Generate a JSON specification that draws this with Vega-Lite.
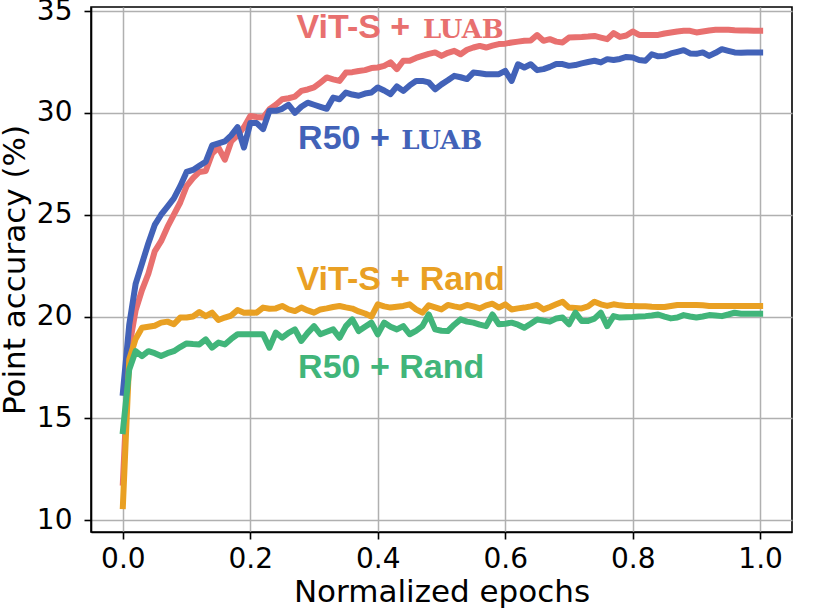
{
  "$schema": "https://vega.github.io/schema/vega-lite/v6.json",
  "autosize": {"type": "none"},
  "padding": {"left": 91, "top": 7, "right": 38, "bottom": 82},
  "width": 701,
  "height": 525,
  "background": "white",
  "config": {
    "view": {"stroke": "#000000", "strokeWidth": 1.6},
    "axis": {
      "domainColor": "#000000", "domainWidth": 1.6,
      "tickColor": "#000000", "tickWidth": 1.6, "tickSize": 7,
      "labelFont": "DejaVu Sans", "labelFontSize": 28, "labelColor": "#000000",
      "titleFont": "DejaVu Sans", "titleFontSize": 31, "titleFontWeight": "normal", "titleColor": "#000000",
      "gridColor": "#b0b0b0", "gridWidth": 1.5, "gridOpacity": 1
    }
  },
  "datasets": {
    "acc": [
      {"x":0.00,"vl":11.84,"rl":16.26,"vr":10.69,"rr":14.37},
      {"x":0.01,"vl":18.5,"rl":19.6,"vr":17.9,"rr":17.4},
      {"x":0.02,"vl":20.3,"rl":21.6,"vr":18.9,"rr":18.3},
      {"x":0.03,"vl":21.3,"rl":22.6,"vr":19.45,"rr":18.06},
      {"x":0.04,"vl":22.1,"rl":23.6,"vr":19.5,"rr":18.3},
      {"x":0.05,"vl":23.2,"rl":24.5,"vr":19.55,"rr":18.2},
      {"x":0.06,"vl":23.7,"rl":25.0,"vr":19.7,"rr":18.06},
      {"x":0.07,"vl":24.4,"rl":25.4,"vr":19.75,"rr":18.2},
      {"x":0.08,"vl":25.0,"rl":25.8,"vr":19.62,"rr":18.3},
      {"x":0.09,"vl":25.6,"rl":26.4,"vr":19.95,"rr":18.5},
      {"x":0.10,"vl":26.4,"rl":27.1,"vr":19.95,"rr":18.68},
      {"x":0.11,"vl":26.8,"rl":27.2,"vr":20.0,"rr":18.65},
      {"x":0.12,"vl":27.1,"rl":27.4,"vr":20.22,"rr":18.63},
      {"x":0.13,"vl":27.15,"rl":27.6,"vr":20.02,"rr":18.88},
      {"x":0.14,"vl":28.0,"rl":28.4,"vr":20.19,"rr":18.47},
      {"x":0.15,"vl":28.3,"rl":28.5,"vr":19.83,"rr":18.72},
      {"x":0.16,"vl":27.7,"rl":28.6,"vr":19.95,"rr":18.63},
      {"x":0.17,"vl":28.6,"rl":28.9,"vr":20.05,"rr":18.9},
      {"x":0.18,"vl":28.9,"rl":29.3,"vr":20.32,"rr":19.13},
      {"x":0.19,"vl":29.3,"rl":28.3,"vr":20.19,"rr":19.13},
      {"x":0.20,"vl":29.85,"rl":29.5,"vr":20.2,"rr":19.13},
      {"x":0.21,"vl":29.8,"rl":29.5,"vr":20.19,"rr":19.13},
      {"x":0.22,"vl":29.77,"rl":29.2,"vr":20.44,"rr":19.13},
      {"x":0.23,"vl":30.18,"rl":30.1,"vr":20.38,"rr":18.47},
      {"x":0.24,"vl":30.4,"rl":30.1,"vr":20.4,"rr":19.21},
      {"x":0.25,"vl":30.67,"rl":30.2,"vr":20.52,"rr":18.96},
      {"x":0.26,"vl":30.72,"rl":30.4,"vr":20.35,"rr":19.2},
      {"x":0.27,"vl":30.8,"rl":30.0,"vr":20.27,"rr":19.37},
      {"x":0.28,"vl":31.08,"rl":30.3,"vr":20.44,"rr":18.8},
      {"x":0.29,"vl":31.15,"rl":30.5,"vr":20.3,"rr":19.2},
      {"x":0.30,"vl":31.25,"rl":30.4,"vr":20.19,"rr":19.53},
      {"x":0.31,"vl":31.49,"rl":30.3,"vr":20.35,"rr":19.13},
      {"x":0.32,"vl":31.74,"rl":30.2,"vr":20.4,"rr":19.25},
      {"x":0.33,"vl":31.65,"rl":30.75,"vr":20.47,"rr":19.37},
      {"x":0.34,"vl":31.57,"rl":30.67,"vr":20.52,"rr":18.96},
      {"x":0.35,"vl":31.98,"rl":31.0,"vr":20.45,"rr":19.53},
      {"x":0.36,"vl":32.0,"rl":30.9,"vr":20.39,"rr":19.86},
      {"x":0.37,"vl":32.06,"rl":30.84,"vr":20.25,"rr":19.29},
      {"x":0.38,"vl":32.1,"rl":30.95,"vr":20.15,"rr":19.5},
      {"x":0.39,"vl":32.2,"rl":31.0,"vr":20.0,"rr":19.7},
      {"x":0.40,"vl":32.23,"rl":31.25,"vr":20.6,"rr":19.13},
      {"x":0.41,"vl":32.31,"rl":31.1,"vr":20.5,"rr":19.7},
      {"x":0.42,"vl":32.48,"rl":30.92,"vr":20.44,"rr":19.5},
      {"x":0.43,"vl":32.15,"rl":31.3,"vr":20.48,"rr":19.37},
      {"x":0.44,"vl":32.56,"rl":31.08,"vr":20.52,"rr":19.53},
      {"x":0.45,"vl":32.56,"rl":31.35,"vr":20.6,"rr":19.13},
      {"x":0.46,"vl":32.7,"rl":31.57,"vr":20.35,"rr":19.3},
      {"x":0.47,"vl":32.8,"rl":31.57,"vr":20.19,"rr":19.53},
      {"x":0.48,"vl":32.9,"rl":31.5,"vr":20.55,"rr":20.1},
      {"x":0.49,"vl":32.97,"rl":31.16,"vr":20.45,"rr":19.37},
      {"x":0.50,"vl":32.8,"rl":31.4,"vr":20.35,"rr":19.3},
      {"x":0.51,"vl":32.95,"rl":31.6,"vr":20.57,"rr":19.29},
      {"x":0.52,"vl":33.05,"rl":31.82,"vr":20.5,"rr":19.6},
      {"x":0.53,"vl":32.88,"rl":31.75,"vr":20.44,"rr":19.86},
      {"x":0.54,"vl":33.1,"rl":31.66,"vr":20.57,"rr":19.75},
      {"x":0.55,"vl":33.21,"rl":31.98,"vr":20.5,"rr":19.7},
      {"x":0.56,"vl":33.29,"rl":31.95,"vr":20.4,"rr":19.6},
      {"x":0.57,"vl":33.21,"rl":31.9,"vr":20.55,"rr":19.53},
      {"x":0.58,"vl":33.3,"rl":31.9,"vr":20.63,"rr":20.1},
      {"x":0.59,"vl":33.38,"rl":31.9,"vr":20.44,"rr":19.62},
      {"x":0.60,"vl":33.4,"rl":32.06,"vr":20.6,"rr":19.65},
      {"x":0.61,"vl":33.46,"rl":31.57,"vr":20.35,"rr":19.7},
      {"x":0.62,"vl":33.5,"rl":32.39,"vr":20.4,"rr":19.6},
      {"x":0.63,"vl":33.54,"rl":32.23,"vr":20.44,"rr":19.45},
      {"x":0.64,"vl":33.55,"rl":32.39,"vr":20.5,"rr":19.65},
      {"x":0.65,"vl":33.82,"rl":32.1,"vr":20.57,"rr":19.86},
      {"x":0.66,"vl":33.54,"rl":32.15,"vr":20.35,"rr":19.8},
      {"x":0.67,"vl":33.62,"rl":32.26,"vr":20.47,"rr":19.75},
      {"x":0.68,"vl":33.5,"rl":32.4,"vr":20.6,"rr":19.9},
      {"x":0.69,"vl":33.46,"rl":32.4,"vr":20.73,"rr":19.95},
      {"x":0.70,"vl":33.7,"rl":32.31,"vr":20.44,"rr":19.62},
      {"x":0.71,"vl":33.72,"rl":32.35,"vr":20.42,"rr":20.19},
      {"x":0.72,"vl":33.73,"rl":32.43,"vr":20.4,"rr":19.78},
      {"x":0.73,"vl":33.75,"rl":32.5,"vr":20.5,"rr":19.78},
      {"x":0.74,"vl":33.78,"rl":32.56,"vr":20.73,"rr":19.9},
      {"x":0.75,"vl":33.7,"rl":32.48,"vr":20.6,"rr":20.19},
      {"x":0.76,"vl":33.62,"rl":32.64,"vr":20.52,"rr":19.53},
      {"x":0.77,"vl":33.92,"rl":32.6,"vr":20.6,"rr":20.02},
      {"x":0.78,"vl":33.73,"rl":32.65,"vr":20.55,"rr":19.95},
      {"x":0.79,"vl":33.8,"rl":32.75,"vr":20.52,"rr":19.97},
      {"x":0.80,"vl":34.0,"rl":32.72,"vr":20.52,"rr":19.98},
      {"x":0.81,"vl":33.83,"rl":32.6,"vr":20.5,"rr":20.0},
      {"x":0.82,"vl":33.83,"rl":32.56,"vr":20.5,"rr":20.02},
      {"x":0.83,"vl":33.83,"rl":32.88,"vr":20.48,"rr":20.05},
      {"x":0.84,"vl":33.83,"rl":32.78,"vr":20.47,"rr":20.1},
      {"x":0.85,"vl":33.9,"rl":32.8,"vr":20.47,"rr":20.0},
      {"x":0.86,"vl":33.95,"rl":32.92,"vr":20.52,"rr":19.91},
      {"x":0.87,"vl":34.0,"rl":33.0,"vr":20.57,"rr":19.95},
      {"x":0.88,"vl":34.03,"rl":33.08,"vr":20.57,"rr":20.07},
      {"x":0.89,"vl":34.03,"rl":32.92,"vr":20.57,"rr":20.0},
      {"x":0.90,"vl":33.95,"rl":32.9,"vr":20.57,"rr":19.95},
      {"x":0.91,"vl":34.0,"rl":32.97,"vr":20.55,"rr":20.0},
      {"x":0.92,"vl":34.05,"rl":32.8,"vr":20.52,"rr":20.07},
      {"x":0.93,"vl":34.08,"rl":32.95,"vr":20.52,"rr":20.05},
      {"x":0.94,"vl":34.08,"rl":33.13,"vr":20.52,"rr":20.02},
      {"x":0.95,"vl":34.08,"rl":33.05,"vr":20.52,"rr":20.1},
      {"x":0.96,"vl":34.06,"rl":32.97,"vr":20.52,"rr":20.19},
      {"x":0.97,"vl":34.05,"rl":32.95,"vr":20.52,"rr":20.14},
      {"x":0.98,"vl":34.05,"rl":32.97,"vr":20.52,"rr":20.14},
      {"x":0.99,"vl":34.03,"rl":32.97,"vr":20.52,"rr":20.14},
      {"x":1.00,"vl":34.03,"rl":32.97,"vr":20.52,"rr":20.14}
    ],
    "sansLabels": [
      {"series":"vl","x":0.2725,"y":33.66,"text":"ViT-S +"},
      {"series":"rl","x":0.275,"y":28.22,"text":"R50 +"},
      {"series":"vr","x":0.2725,"y":21.30,"text":"ViT-S + Rand"},
      {"series":"rr","x":0.275,"y":17.0,"text":"R50 + Rand"}
    ],
    "serifLabels": [
      {"series":"vl","x":0.4708,"y":33.66,"text":"LUAB"},
      {"series":"rl","x":0.437,"y":28.22,"text":"LUAB"}
    ]
  },
  "layer": [
    {
      "data": {"name": "acc"},
      "transform": [{"fold": ["vl", "rl", "vr", "rr"], "as": ["series", "acc"]}],
      "mark": {"type": "line", "strokeWidth": 6, "strokeJoin": "round", "strokeCap": "square", "clip": true},
      "encoding": {
        "x": {
          "field": "x", "type": "quantitative",
          "scale": {"domain": [-0.05, 1.05], "nice": false, "zero": false},
          "axis": {"title": "Normalized epochs", "values": [0, 0.2, 0.4, 0.6, 0.8, 1.0], "format": ".1f", "grid": true, "labelPadding": 6, "titlePadding": 4}
        },
        "y": {
          "field": "acc", "type": "quantitative",
          "scale": {"domain": [9.42, 35.2], "nice": false, "zero": false},
          "axis": {"title": "Point accuracy (%)", "values": [10, 15, 20, 25, 30, 35], "format": "d", "grid": true, "labelPadding": 12, "titlePadding": 5}
        },
        "color": {
          "field": "series", "type": "nominal",
          "scale": {"domain": ["vl", "rl", "vr", "rr"], "range": ["#e8706f", "#4262b8", "#e9a023", "#41b57a"]},
          "legend": null
        },
        "order": {"field": "series"}
      }
    },
    {
      "data": {"name": "sansLabels"},
      "mark": {"type": "text", "align": "left", "baseline": "alphabetic", "font": "Liberation Sans", "fontWeight": "bold", "fontSize": 34},
      "encoding": {
        "x": {"field": "x", "type": "quantitative"},
        "y": {"field": "y", "type": "quantitative"},
        "text": {"field": "text"},
        "color": {"field": "series", "type": "nominal", "legend": null}
      }
    },
    {
      "data": {"name": "serifLabels"},
      "mark": {"type": "text", "align": "left", "baseline": "alphabetic", "font": "DejaVu Serif", "fontWeight": "bold", "fontSize": 26},
      "encoding": {
        "x": {"field": "x", "type": "quantitative"},
        "y": {"field": "y", "type": "quantitative"},
        "text": {"field": "text"},
        "color": {"field": "series", "type": "nominal", "legend": null}
      }
    }
  ]
}
